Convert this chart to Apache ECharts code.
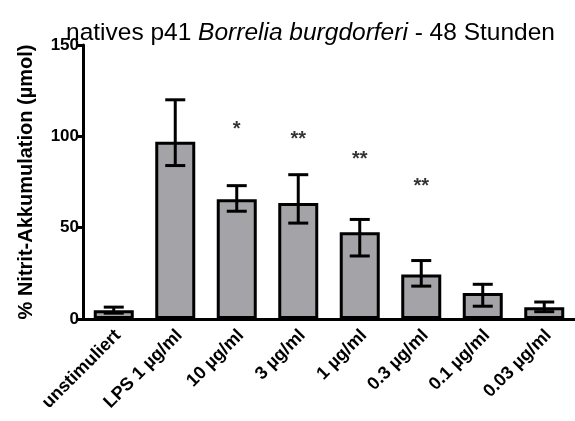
<!DOCTYPE html>
<html>
<head>
<meta charset="utf-8">
<script src="https://cdn.jsdelivr.net/npm/echarts@6/dist/echarts.min.js"></script>
<style>html,body{margin:0;padding:0;background:#fff}#c{width:575px;height:421px}</style>
</head>
<body>
<div id="c"></div>
<script>
var categories = ['unstimuliert', 'LPS 1 µg/ml', '10 µg/ml', '3 µg/ml', '1 µg/ml', '0.3 µg/ml', '0.1 µg/ml', '0.03 µg/ml'];
var means = [4.8, 97, 65.5, 63.5, 47.5, 24.4, 14.2, 6.4];
var errHigh = [6.5, 120, 73, 79, 54.5, 32, 19, 9.3];
var errLow = [3.2, 84, 59, 52.5, 34.5, 18, 7, 4];
var significance = ['', '', '*', '**', '**', '**', '', ''];
var significanceY = [null, null, 103.5, 98.5, 87.5, 72.5, null, null];
var yTicks = [0, 50, 100, 150];

var chart = echarts.init(document.getElementById('c'));
var errData = categories.map(function (c, i) { return [i, errLow[i], errHigh[i]]; });
var starData = [];
significance.forEach(function (s, i) { if (s) starData.push({ value: [i, significanceY[i]], star: s }); });

chart.setOption({
  animation: false,
  title: {
    text: '{n|natives p41 }{i|Borrelia burgdorferi}{n| - 48 Stunden}',
    left: 61, top: 16,
    textStyle: {
      rich: {
        n: { fontFamily: 'Liberation Sans', fontSize: 24.5, fontWeight: 'normal', color: '#000' },
        i: { fontFamily: 'Liberation Sans', fontSize: 24.5, fontWeight: 'normal', fontStyle: 'italic', color: '#000' }
      }
    }
  },
  grid: { left: 83, right: -9, top: 45, bottom: 102, containLabel: false },
  xAxis: {
    type: 'category', data: categories,
    axisLine: { lineStyle: { color: '#000', width: 3 } },
    axisTick: { show: false },
    axisLabel: { rotate: 45, interval: 0, margin: 18, padding: [0, -6, 0, 0], color: '#000', fontFamily: 'Liberation Sans', fontWeight: 'bold', fontSize: 18 }
  },
  yAxis: {
    type: 'value', min: yTicks[0], max: yTicks[yTicks.length - 1], interval: 50,
    name: '% Nitrit-Akkumulation (µmol)', nameLocation: 'middle', nameGap: 47,
    nameTextStyle: { color: '#000', fontFamily: 'Liberation Sans', fontWeight: 'bold', fontSize: 20 },
    axisLine: { show: true, lineStyle: { color: '#000', width: 3 } },
    axisTick: { show: true, length: 5, lineStyle: { color: '#000', width: 3 } },
    axisLabel: { color: '#000', fontFamily: 'Liberation Sans', fontWeight: 'bold', fontSize: 17, margin: 4 },
    splitLine: { show: false }
  },
  series: [
    {
      type: 'bar', data: means, barWidth: 40,
      itemStyle: { color: '#a4a4a8', borderColor: '#000', borderWidth: 3 }
    },
    {
      type: 'custom', data: errData, z: 5,
      renderItem: function (params, api) {
        var x = api.value(0);
        var lo = api.coord([x, api.value(1)]);
        var hi = api.coord([x, api.value(2)]);
        var hw = 10;
        var st = { stroke: '#000', lineWidth: 3 };
        return {
          type: 'group', children: [
            { type: 'line', shape: { x1: lo[0], y1: lo[1], x2: hi[0], y2: hi[1] }, style: st },
            { type: 'line', shape: { x1: lo[0] - hw, y1: lo[1], x2: lo[0] + hw, y2: lo[1] }, style: st },
            { type: 'line', shape: { x1: hi[0] - hw, y1: hi[1], x2: hi[0] + hw, y2: hi[1] }, style: st }
          ]
        };
      }
    },
    {
      type: 'scatter', data: starData, symbolSize: 0, z: 6,
      label: {
        show: true, position: 'inside',
        formatter: function (p) { return p.data.star; },
        color: '#000', fontFamily: 'Liberation Sans', fontWeight: 'bold', fontSize: 20
      }
    }
  ]
});
</script>
</body>
</html>
